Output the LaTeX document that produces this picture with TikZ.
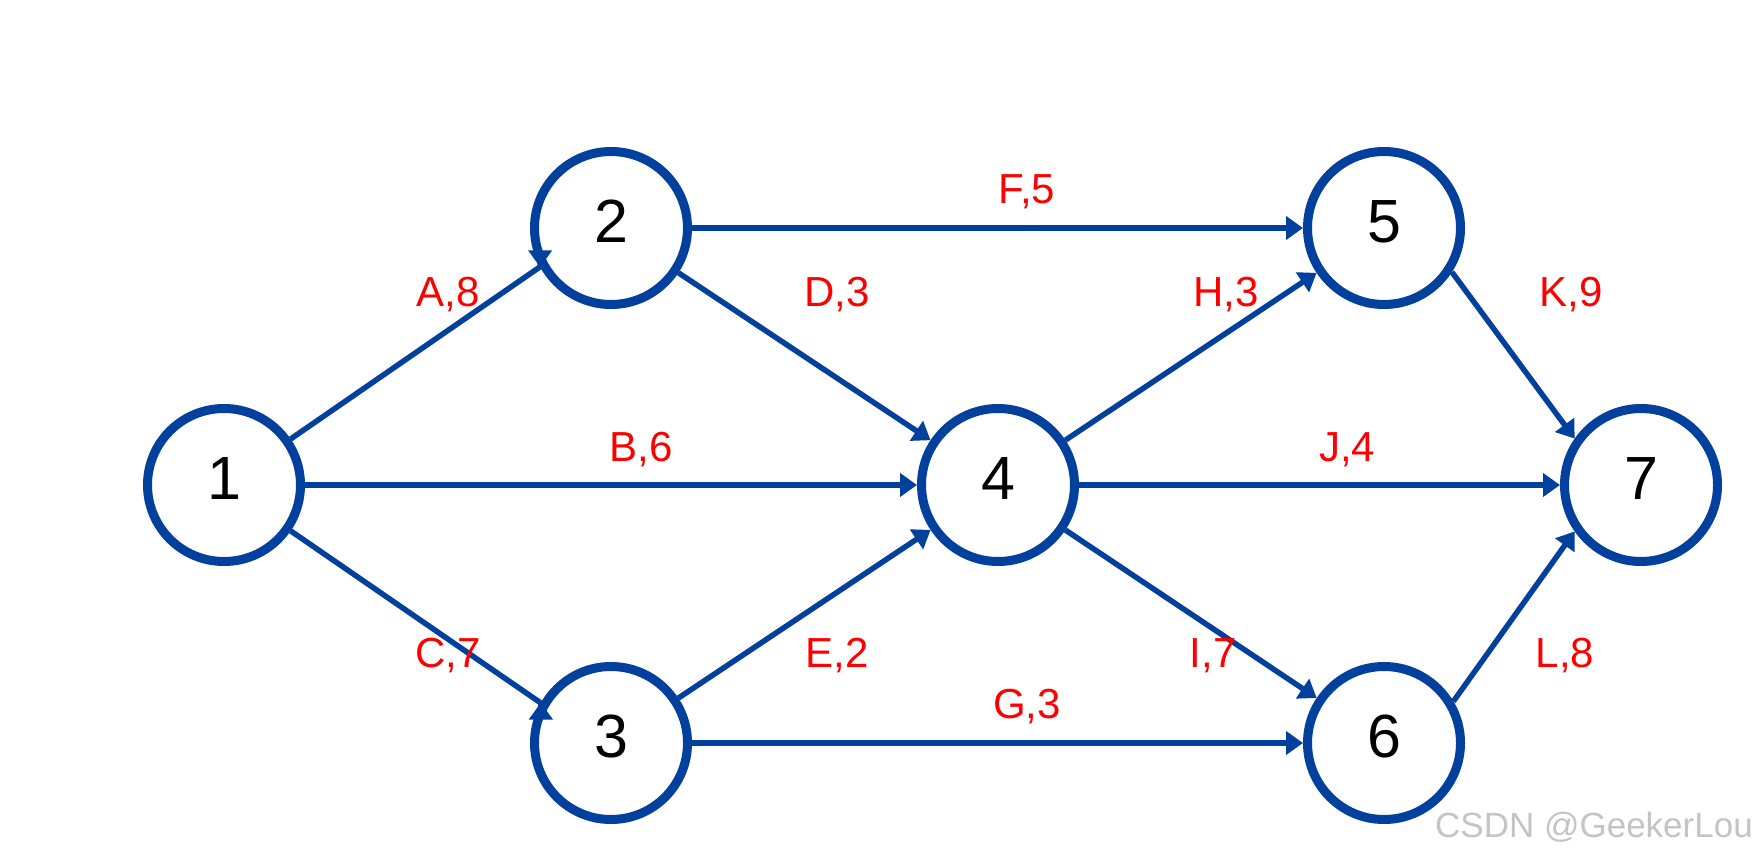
\documentclass[tikz,border=0pt]{standalone}
\usepackage{fontspec}
\setmainfont{Liberation Sans}
\usetikzlibrary{arrows.meta,calc}
\definecolor{netblue}{RGB}{2,64,158}
\definecolor{lblred}{RGB}{255,0,0}
\definecolor{wmgray}{RGB}{196,196,196}
\begin{document}
\begin{tikzpicture}[x=1pt,y=-1pt,
  state/.style={circle, draw=netblue, line width=9pt, minimum size=153pt, inner sep=0pt,
    font=\fontsize{61}{61}\selectfont, text height=44pt, text depth=16pt},
  conn/.style={draw=netblue, line width=5.5pt, -{Triangle[length=17pt,width=23pt]}},
  lbl/.style={anchor=base, text=lblred, inner sep=0pt, font=\fontsize{42}{42}\selectfont},
  wm/.style={anchor=base east, text=wmgray, inner sep=0pt, font=\fontsize{35}{35}\selectfont}]
\useasboundingbox (0,0) rectangle (1756,854);
\fill[white] (0,0) rectangle (1756,854);
% nodes
\node[state] (n1) at (224,485) {1};
\node[state] (n2) at (611,228) {2};
\node[state] (n3) at (611,743) {3};
\node[state] (n4) at (998,485) {4};
\node[state] (n5) at (1384,228) {5};
\node[state] (n6) at (1384,743) {6};
\node[state] (n7) at (1641,485) {7};
% connectors
\draw[conn] (n1) -- ($(n2.209.5)+(0,-0.5)$) -- (n2.209.5);
\draw[conn] (n1) -- ($(n3.150)+(0,0.5)$) -- (n3.150);
\draw[conn] (n1) -- (n4);
\draw[conn] (n2) -- (n4);
\draw[conn] (n3) -- (n4);
\draw[conn] (n2) -- (n5);
\draw[conn] (n3) -- (n6);
\draw[conn] (n4) -- (n5);
\draw[conn] (n4) -- (n6);
\draw[conn] (n4) -- (n7);
\draw[conn] (n5.-33) -- (n7.145);
\draw[conn] (n6.31) -- (n7.-145);
% labels
\node[lbl] (lA) at (448,306) {A,8};
\node[lbl] (lB) at (641,461) {B,6};
\node[lbl] (lC) at (448,667) {C,7};
\node[lbl] (lD) at (837,306) {D,3};
\node[lbl] (lE) at (837,667) {E,2};
\node[lbl] (lF) at (1027,203) {F,5};
\node[lbl] (lG) at (1027,718) {G,3};
\node[lbl] (lH) at (1226,306) {H,3};
\node[lbl] (lI) at (1213,667) {I,7};
\node[lbl] (lJ) at (1347,461) {J,4};
\node[lbl] (lK) at (1571,306) {K,9};
\node[lbl] (lL) at (1565,667) {L,8};
% watermark
\node[wm] (wmk) at (1753,837) {CSDN @GeekerLou};
\end{tikzpicture}
\end{document}
